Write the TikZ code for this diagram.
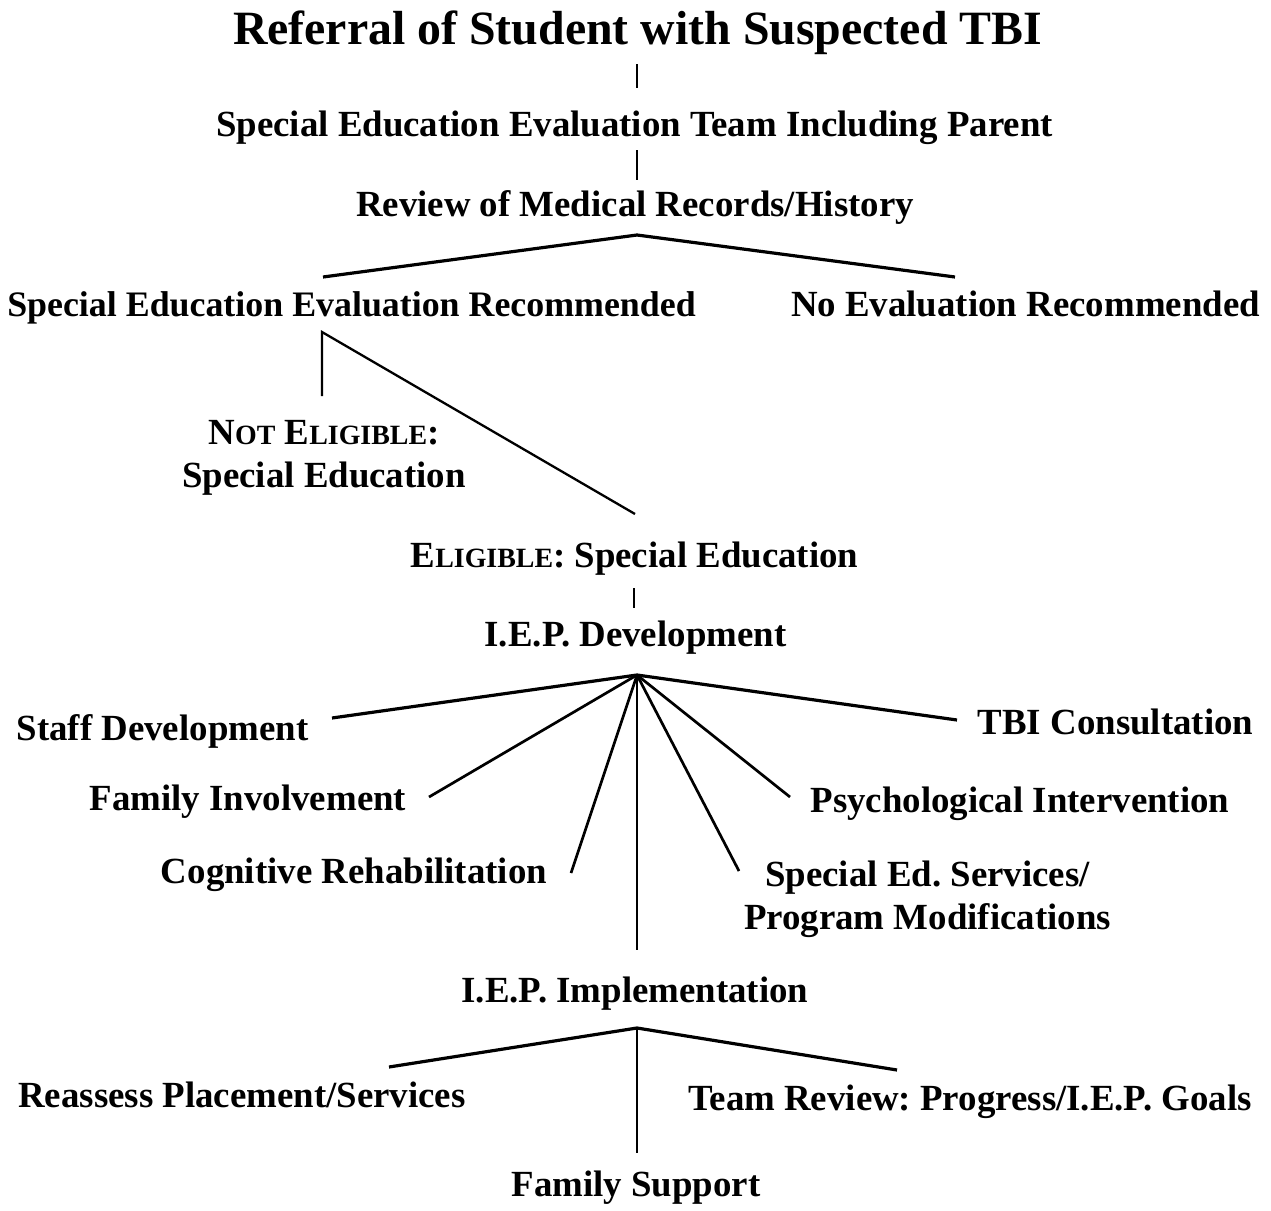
\documentclass[tikz,border=0pt]{standalone}
\usepackage{fontspec}
\setmainfont{Liberation Serif}
\newcommand{\scfake}[1]{{\fontsize{28}{32}\selectfont #1}}
\frenchspacing
\begin{document}
\begin{tikzpicture}[x=1bp,y=-1bp,
  lbl/.style={anchor=base,inner sep=0pt,font=\fontsize{37}{43}\selectfont\bfseries},
  ttl/.style={anchor=base,inner sep=0pt,font=\fontsize{48}{54}\selectfont\bfseries},
  thick/.style={line width=3.2bp},
  thinl/.style={line width=2.3bp},
  midl/.style={line width=2.7bp}]
\useasboundingbox (0,0) rectangle (1271,1211);
% texts
\node[ttl] (title) at (637.5,44) {Referral of Student with Suspected TBI};
\node[lbl] (team) at (634.5,136) {Special Education Evaluation Team Including Parent};
\node[lbl] (review) at (635,216) {Review of Medical Records/History};
\node[lbl,font=\fontsize{36}{43}\selectfont\bfseries] (ser) at (351.5,316) {Special Education Evaluation Recommended};
\node[lbl] (noeval) at (1025.5,316) {No Evaluation Recommended};
\node[lbl,anchor=center,align=center] (notel) at (324,458) {N\scfake{OT} E\scfake{LIGIBLE}:\\Special Education};
\node[lbl] (elig) at (634.5,567) {E\scfake{LIGIBLE}: Special Education};
\node[lbl] (iepdev) at (635.5,646) {I.E.P. Development};
\node[lbl] (staff) at (162.5,740) {Staff Development};
\node[lbl] (tbi) at (1115.5,734) {TBI Consultation};
\node[lbl] (faminv) at (248,810) {Family Involvement};
\node[lbl] (psych) at (1020,812) {Psychological Intervention};
\node[lbl] (cog) at (354,883) {Cognitive Rehabilitation};
\node[lbl,anchor=center,align=center] (sped) at (927.5,899) {Special Ed. Services/\\Program Modifications};
\node[lbl] (iepimpl) at (635,1002) {I.E.P. Implementation};
\node[lbl] (reassess) at (242,1107) {Reassess Placement/Services};
\node[lbl] (teamrev) at (970,1110) {Team Review: Progress/I.E.P. Goals};
\node[lbl] (famsup) at (636,1196) {Family Support};
% connector points
\coordinate (t1) at (637,64);  \coordinate (t2) at (637,88);
\coordinate (m1) at (637,150); \coordinate (m2) at (637,180);
\coordinate (hubA) at (637,235);
\coordinate (aL) at (323,277); \coordinate (aR) at (955,277);
\coordinate (cor) at (322,332);
\coordinate (cNot) at (322,396); \coordinate (cEl) at (635,514);
\coordinate (e1) at (634,588); \coordinate (e2) at (634,608);
\coordinate (hubB) at (637,675);
\coordinate (bStaff) at (332,718); \coordinate (bTbi) at (957,720);
\coordinate (bFam) at (429,797); \coordinate (bPsy) at (790,797);
\coordinate (bCog) at (571,873); \coordinate (bSpe) at (739,871);
\coordinate (bImp) at (637,950);
\coordinate (hubC) at (637,1028);
\coordinate (cRe) at (389,1067); \coordinate (cTe) at (897,1070);
\coordinate (cFs) at (637,1153);
% connectors
\draw[thinl] (t1) -- (t2);
\draw[thinl] (m1) -- (m2);
\draw[thick] (aL) -- (hubA) -- (aR);
\draw[thinl,line join=miter] (cNot) -- (cor) -- (cEl);
\draw[thinl] (e1) -- (e2);
\draw[thick] (bStaff) -- (hubB) -- (bTbi);
\draw[midl] (hubB) -- (bFam);
\draw[midl] (hubB) -- (bPsy);
\draw[midl] (hubB) -- (bCog);
\draw[midl] (hubB) -- (bSpe);
\draw[thinl] (hubB) -- (bImp);
\draw[thick] (cRe) -- (hubC) -- (cTe);
\draw[thinl] (hubC) -- (cFs);
\end{tikzpicture}
\end{document}
